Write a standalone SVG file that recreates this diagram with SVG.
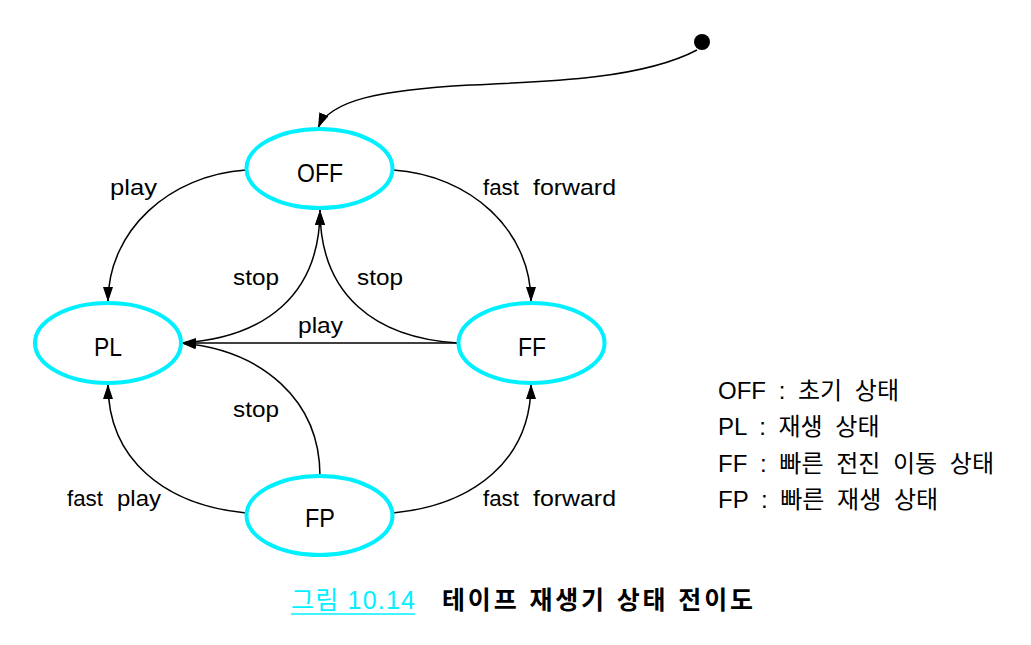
<svg xmlns="http://www.w3.org/2000/svg" width="1031" height="645" viewBox="0 0 1031 645">
<defs>
<marker id="arr" markerUnits="userSpaceOnUse" markerWidth="16" markerHeight="10" refX="15" refY="5" orient="auto">
<path d="M0,0 L15,5 L0,10 Z" fill="#000"/>
</marker>
<style>
.st{fill:#fff;stroke:#00F0FF;stroke-width:4}
.nl{font-family:"Liberation Sans","Noto Sans",sans-serif;font-size:25px;fill:#000;text-anchor:middle}
.lb{font-family:"Liberation Sans","Noto Sans",sans-serif;font-size:22px;fill:#000}
.lg{font-family:"Liberation Sans","Noto Sans CJK KR",sans-serif;font-size:24px;fill:#000;word-spacing:6px}
.cn{fill:none;stroke:#000;stroke-width:1.5}
</style>
</defs>
<rect width="1031" height="645" fill="#fff"/>
<g id="connectors">
<path class="cn" d="M697,50 C640,80 540,82 470,85 C380,90 330,100 318,128" marker-end="url(#arr)"/>
<path class="cn" d="M246,170 C170,175 108,230 108,302" marker-end="url(#arr)"/>
<path class="cn" d="M393,170 C470,175 531,230 531,302" marker-end="url(#arr)"/>
<path class="cn" d="M181,343 C265,338 320,295 320,210" marker-end="url(#arr)"/>
<path class="cn" d="M458,343 C375,338 320,295 320,210" marker-end="url(#arr)"/>
<path class="cn" d="M458,343 L181,343" stroke-width="2.2" marker-end="url(#arr)"/>
<path class="cn" d="M320,476 C320,400 262,350 181,343" marker-end="url(#arr)"/>
<path class="cn" d="M246,513 C165,505 108,460 108,384" marker-end="url(#arr)"/>
<path class="cn" d="M393,513 C474,505 531,460 531,384" marker-end="url(#arr)"/>
<text class="lb" x="110" y="195" textLength="47" lengthAdjust="spacingAndGlyphs">play</text>
<text class="lb" y="195"><tspan x="483" textLength="36" lengthAdjust="spacingAndGlyphs">fast</tspan><tspan x="533" textLength="83" lengthAdjust="spacingAndGlyphs">forward</tspan></text>
<text class="lb" x="233" y="285" textLength="46" lengthAdjust="spacingAndGlyphs">stop</text>
<text class="lb" x="357" y="285" textLength="46" lengthAdjust="spacingAndGlyphs">stop</text>
<text class="lb" x="298" y="333" textLength="45" lengthAdjust="spacingAndGlyphs">play</text>
<text class="lb" x="233" y="417" textLength="46" lengthAdjust="spacingAndGlyphs">stop</text>
<text class="lb" y="506"><tspan x="67" textLength="36" lengthAdjust="spacingAndGlyphs">fast</tspan><tspan x="117" textLength="44" lengthAdjust="spacingAndGlyphs">play</tspan></text>
<text class="lb" y="506"><tspan x="483" textLength="36" lengthAdjust="spacingAndGlyphs">fast</tspan><tspan x="533" textLength="83" lengthAdjust="spacingAndGlyphs">forward</tspan></text>
</g>
<g id="initial">
<circle cx="702" cy="42" r="8" fill="#000"/>
</g>
<g id="OFF">
<ellipse class="st" cx="319.5" cy="168.5" rx="73" ry="39.5"/>
<text class="nl" x="320" y="182" textLength="46" lengthAdjust="spacingAndGlyphs">OFF</text>
</g>
<g id="PL">
<ellipse class="st" cx="108" cy="343" rx="73" ry="40"/>
<text class="nl" x="108" y="356" textLength="28" lengthAdjust="spacingAndGlyphs">PL</text>
</g>
<g id="FF">
<ellipse class="st" cx="531.5" cy="343" rx="73" ry="40"/>
<text class="nl" x="532" y="356" textLength="28" lengthAdjust="spacingAndGlyphs">FF</text>
</g>
<g id="FP">
<ellipse class="st" cx="319.5" cy="515.5" rx="73" ry="39.5"/>
<text class="nl" x="320" y="527" textLength="30" lengthAdjust="spacingAndGlyphs">FP</text>
</g>
<g id="legend">
<text class="lg" x="718" y="399">OFF : 초기 상태</text>
<text class="lg" x="718" y="435">PL : 재생 상태</text>
<text class="lg" x="718" y="472">FF : 빠른 전진 이동 상태</text>
<text class="lg" x="718" y="508">FP : 빠른 재생 상태</text>
</g>
<g id="caption">
<text x="291" y="609" textLength="124" style="font-family:'Liberation Sans','Noto Sans CJK KR',sans-serif;font-size:25px;fill:#00F0FF">그림 10.14</text>
<line x1="291" y1="614" x2="415" y2="614" stroke="#00F0FF" stroke-width="1.5"/>
<text x="442" y="609" textLength="311" style="font-family:'Liberation Sans','Noto Sans CJK KR',sans-serif;font-size:25px;font-weight:bold;fill:#000">테이프 재생기 상태 전이도</text>
</g>
</svg>
